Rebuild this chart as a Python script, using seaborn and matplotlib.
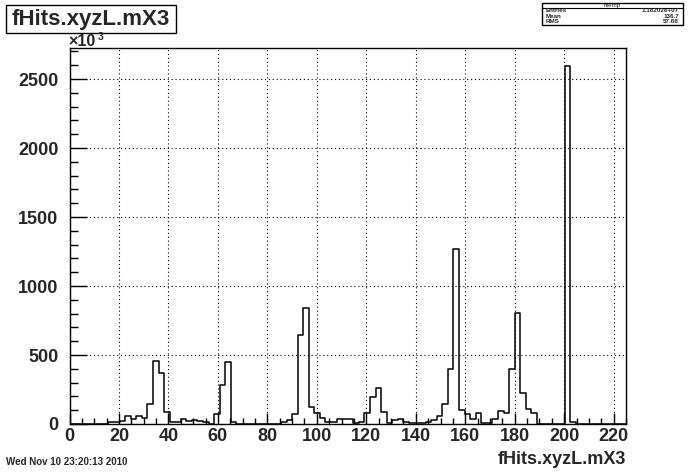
import numpy as np
import pandas as pd
import matplotlib
matplotlib.use("Agg")
import matplotlib.pyplot as plt
from matplotlib.patches import Rectangle
from matplotlib.ticker import MultipleLocator
import seaborn as sns

# fHits.xyzL.mX3 histogram: 100 bins on [0, 225], counts in units of 10^3
X_MIN, X_MAX, N_BINS = 0.0, 225.0, 100
counts = [
    0, 0, 0, 0, 0, 0, 0, 12, 12, 22,
    55, 34, 55, 41, 145, 460, 366, 87, 12, 12,
    34, 22, 31, 22, 12, 0, 75, 282, 446, 17,
    0, 0, 0, 0, 0, 0, 0, 0, 12, 26,
    72, 643, 843, 120, 77, 43, 17, 12, 34, 34,
    34, 10, 17, 77, 193, 258, 88, 10, 29, 34,
    17, 5, 5, 5, 17, 26, 56, 145, 395, 1270,
    101, 72, 34, 77, 5, 10, 34, 94, 82, 397,
    807, 226, 106, 82, 0, 0, 0, 0, 0, 2595,
    17, 0, 0, 0, 0, 0, 0, 0, 0, 0,
]
x_ticks = list(range(0, 221, 20))
y_ticks = [0, 500, 1000, 1500, 2000, 2500]

hist_title = "fHits.xyzL.mX3"
stats_name = "htemp"
stats_labels = ["Entries", "Mean", "RMS"]
stats_values = ["1.18202e+07", "136.7", "57.68"]
date_text = "Wed Nov 10 23:20:13 2010"

edges = np.linspace(X_MIN, X_MAX, N_BINS + 1)
df = pd.DataFrame({"center": (edges[:-1] + edges[1:]) / 2, "count": counts})

sns.set_style("ticks")
plt.rcParams["font.family"] = ["Liberation Sans", "DejaVu Sans"]

W, H = 696, 472
fig = plt.figure(figsize=(W / 100, H / 100), dpi=100)
ax = fig.add_axes([69.5 / W, 1 - 424 / H, (626 - 69.5) / W, (424 - 48) / H])

sns.histplot(data=df, x="center", weights="count", bins=N_BINS, binrange=(X_MIN, X_MAX),
             element="step", fill=False, color="black", linewidth=1.1, ax=ax)

ax.set_xlim(X_MIN, X_MAX)
ax.set_ylim(0, max(counts) * 1.05)
ax.set_xlabel("")
ax.set_ylabel("")
ax.set_xticks(x_ticks)
ax.set_yticks(y_ticks)
ax.xaxis.set_minor_locator(MultipleLocator(5))
ax.yaxis.set_minor_locator(MultipleLocator(100))
for lab in ax.get_xticklabels() + ax.get_yticklabels():
    lab.set_fontweight("bold")
ax.tick_params(axis="x", which="major", direction="in", length=8, width=1,
               labelsize=13, pad=3, color="black")
ax.tick_params(axis="x", which="minor", direction="in", length=4, width=1, color="black")
ax.tick_params(axis="y", which="major", direction="in", length=12, width=1,
               labelsize=13, pad=8, color="black")
ax.tick_params(axis="y", which="minor", direction="in", length=6, width=1, color="black")
for s in ax.spines.values():
    s.set_visible(True)
    s.set_color("black")
    s.set_linewidth(1)
ax.grid(which="major", color="black", linestyle=(0, (1, 2.5)), linewidth=0.8)

# title box
fig.add_artist(Rectangle((6 / W, 1 - 33 / H), 170 / W, 28 / H, transform=fig.transFigure,
                         fill=False, ec="black", lw=1))
fig.text(91 / W, 1 - 19 / H, hist_title, ha="center", va="center",
         fontsize=16, fontweight="bold")

# stats box
fig.add_artist(Rectangle((542 / W, 1 - 25 / H), 141 / W, 22 / H, transform=fig.transFigure,
                         fill=False, ec="black", lw=1))
fig.add_artist(plt.Line2D([542 / W, 683 / W], [1 - 7.5 / H, 1 - 7.5 / H],
                          transform=fig.transFigure, color="black", lw=0.8))
fig.text(612.5 / W, 1 - 5 / H, stats_name, ha="center", va="center", fontsize=4.5)
for i, (lab, val) in enumerate(zip(stats_labels, stats_values)):
    y = 1 - (10.5 + 5.7 * i) / H
    fig.text(546 / W, y, lab, ha="left", va="center", fontsize=4.5, fontweight="bold")
    fig.text(679 / W, y, val, ha="right", va="center", fontsize=4.5, fontweight="bold")

# exponent label, axis title and date
fig.text(68 / W, 1 - 41.5 / H, "×10", ha="left", va="center", fontsize=11.5, fontweight="bold")
fig.text(97.5 / W, 1 - 37 / H, "3", ha="left", va="center", fontsize=7.5, fontweight="bold")
fig.text(626 / W, 1 - 459 / H, hist_title, ha="right", va="center",
         fontsize=13, fontweight="bold")
fig.text(6 / W, 1 - 462 / H, date_text, ha="left", va="center", fontsize=7, fontweight="bold")

fig.savefig("out.png", dpi=100)
